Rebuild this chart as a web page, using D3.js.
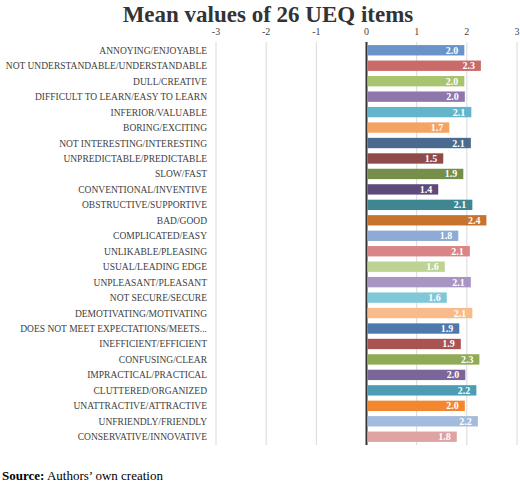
<!DOCTYPE html>
<html><head><meta charset="utf-8">
<script src="https://cdn.jsdelivr.net/npm/d3@7"></script>
<style>body{margin:0;background:#fff}</style>
</head><body><svg id="chart" width="520" height="487"></svg>
<script>
const items = ["ANNOYING/ENJOYABLE","NOT UNDERSTANDABLE/UNDERSTANDABLE","DULL/CREATIVE","DIFFICULT TO LEARN/EASY TO LEARN","INFERIOR/VALUABLE","BORING/EXCITING","NOT INTERESTING/INTERESTING","UNPREDICTABLE/PREDICTABLE","SLOW/FAST","CONVENTIONAL/INVENTIVE","OBSTRUCTIVE/SUPPORTIVE","BAD/GOOD","COMPLICATED/EASY","UNLIKABLE/PLEASING","USUAL/LEADING EDGE","UNPLEASANT/PLEASANT","NOT SECURE/SECURE","DEMOTIVATING/MOTIVATING","DOES NOT MEET EXPECTATIONS/MEETS...","INEFFICIENT/EFFICIENT","CONFUSING/CLEAR","IMPRACTICAL/PRACTICAL","CLUTTERED/ORGANIZED","UNATTRACTIVE/ATTRACTIVE","UNFRIENDLY/FRIENDLY","CONSERVATIVE/INNOVATIVE"];
const means = [1.95,2.28,1.95,1.96,2.09,1.65,2.08,1.53,1.93,1.43,2.11,2.39,1.83,2.06,1.56,2.08,1.60,2.11,1.85,1.88,2.25,1.97,2.19,1.96,2.22,1.80];
const meanLabels = ["2.0","2.3","2.0","2.0","2.1","1.7","2.1","1.5","1.9","1.4","2.1","2.4","1.8","2.1","1.6","2.1","1.6","2.1","1.9","1.9","2.3","2.0","2.2","2.0","2.2","1.8"];
const ticks = [-3,-2,-1,0,1,2,3];
const colors = ["#6a93c9","#c96b69","#a9c46e","#8d77ab","#64b5cc","#f4a460","#4a6a8f","#8f4a4a","#758f4a","#5e4a7a","#3f8592","#c8732d","#8eabd6","#d98486","#bcd393","#a895c4","#80c7d8","#f8bb89","#4f78ad","#aa5452","#8fab55","#7a6699","#4c9db3","#f28730","#a3bcde","#e0a3a3"];

const svg = d3.select("#chart");
const x = d3.scaleLinear().domain([-3,3]).range([216,517]);
const y = d3.scaleBand().domain(items).range([42,445]).paddingInner(0.33).paddingOuter(0.2);

svg.append("text").attr("x",268).attr("y",22).attr("text-anchor","middle")
  .attr("font-family","Liberation Serif").attr("font-weight","bold").attr("font-size",23)
  .attr("fill","#333").text("Mean values of 26 UEQ items");

svg.append("g").selectAll("line").data(ticks).join("line")
  .attr("x1",d=>x(d)).attr("x2",d=>x(d)).attr("y1",42).attr("y2",445)
  .attr("stroke",d=>d===0?"#333":"#d9d9d9").attr("stroke-width",d=>d===0?2:1);

svg.append("g").selectAll("text").data(ticks).join("text")
  .attr("x",d=>x(d)).attr("y",35).attr("text-anchor","middle")
  .attr("font-family","Liberation Serif").attr("font-size",10).attr("fill","#444").text(d=>d);

svg.append("g").selectAll("rect").data(means).join("rect")
  .attr("x",x(0)+1).attr("y",(d,i)=>y(items[i]))
  .attr("width",d=>x(d)-x(0)-1).attr("height",y.bandwidth())
  .attr("fill",(d,i)=>colors[i]);

svg.append("g").selectAll("text").data(means).join("text")
  .attr("x",d=>x(d)-6).attr("y",(d,i)=>y(items[i])+y.bandwidth()/2+3.5)
  .attr("text-anchor","end").attr("font-family","Liberation Serif").attr("font-weight","bold")
  .attr("font-size",10).attr("fill","#fff").text((d,i)=>meanLabels[i]);

svg.append("g").selectAll("text").data(items).join("text")
  .attr("x",207).attr("y",d=>y(d)+y.bandwidth()/2+3.5).attr("text-anchor","end")
  .attr("font-family","Liberation Serif").attr("font-size",9.5).attr("fill","#404040").text(d=>d);

const src = svg.append("text").attr("x",2).attr("y",480).attr("font-family","Liberation Serif").attr("font-size",13);
src.append("tspan").attr("font-weight","bold").text("Source:");
src.append("tspan").text(" Authors’ own creation");
</script></body></html>
